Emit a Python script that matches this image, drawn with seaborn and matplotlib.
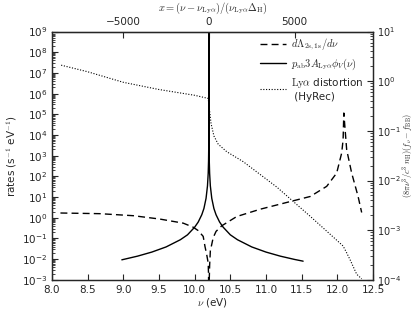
import matplotlib
matplotlib.use("Agg")
import matplotlib.pyplot as plt
import matplotlib.ticker as mticker
import seaborn as sns
import numpy as np

# photon energy grid (eV) and curves
dash_nu = [8.12, 8.67, 9.14, 9.51, 9.84, 9.98, 10.05, 10.12, 10.145, 10.17,
           10.19, 10.195, 10.2, 10.205, 10.21, 10.22, 10.26, 10.3, 10.38, 10.59,
           10.92, 11.29, 11.62, 11.85, 11.99, 12.06, 12.08, 12.09, 12.13, 12.2,
           12.29, 12.34]
dash_rate = [1.7, 1.58, 1.26, 0.87, 0.55, 0.35, 0.24, 0.126, 0.041, 0.016,
             0.0065, 0.0016, 1e-6, 0.001, 0.005, 0.025, 0.11, 0.22, 0.41, 1.15,
             2.6, 5.5, 10.7, 33, 145, 1350, 5900, 1.15e5, 1950, 145,
             10.7, 1.8]

solid_nu = [8.98, 9.2, 9.4, 9.6, 9.8, 9.9, 10.0, 10.05, 10.1, 10.13, 10.16,
            10.18, 10.19, 10.195, 10.198, 10.2, 10.202, 10.205, 10.21, 10.22,
            10.24, 10.27, 10.3, 10.35, 10.4, 10.5, 10.6, 10.8, 11.0, 11.2,
            11.4, 11.52]
solid_rate = [0.0093, 0.014, 0.022, 0.039, 0.087, 0.15, 0.35, 0.62, 1.4, 2.8,
              8.7, 35, 140, 560, 3500, 5e9, 3500, 560, 140, 35,
              8.7, 2.8, 1.4, 0.62, 0.35, 0.15, 0.087, 0.039, 0.022, 0.014,
              0.0097, 0.008]

dist_nu = [8.13, 8.5, 9.0, 9.5, 10.0, 10.19, 10.21, 10.23, 10.27, 10.33,
           10.45, 10.68, 11.15, 11.62, 11.95, 12.08, 12.13, 12.18, 12.27, 12.34]
dist_val = [2.1, 1.55, 0.95, 0.68, 0.52, 0.45, 0.25, 0.14, 0.079, 0.054,
            0.038, 0.024, 0.0074, 0.0019, 7.1e-4, 4.8e-4, 3.5e-4, 2.5e-4, 1.3e-4, 1.05e-4]

top_ticks = [-5000, 0, 5000]

nu_lya = 10.2
width = 2.4e-4  # nu_Lya * Delta_H in eV

sns.set_style("ticks")
plt.rcParams["font.family"] = ["DejaVu Sans"]
plt.rcParams["mathtext.fontset"] = "cm"
plt.rcParams["font.size"] = 7.5

fig, ax = plt.subplots(figsize=(4.15, 3.12), dpi=100)
fig.subplots_adjust(left=0.125, right=0.899, bottom=0.103, top=0.899)

ax.set_yscale("log")
sns.lineplot(x=dash_nu, y=dash_rate, ax=ax, color="k", lw=1, sort=False)
ax.lines[-1].set_dashes((5, 3))
sns.lineplot(x=solid_nu, y=solid_rate, ax=ax, color="k", lw=1, sort=False)
ax.set_xlim(8.0, 12.5)
ax.set_ylim(1e-3, 1e9)
ax.set_xlabel(r"$\nu$ (eV)", fontsize=7.5, labelpad=1)
ax.set_ylabel(r"rates (s$^{-1}$ eV$^{-1}$)", fontsize=7.5, labelpad=2)
ax.set_yticks([10.0 ** k for k in range(-3, 10)])
ax.yaxis.set_minor_locator(mticker.LogLocator(base=10, subs=np.arange(2, 10), numticks=100))
ax.yaxis.set_minor_formatter(mticker.NullFormatter())
ax.tick_params(axis="both", labelsize=7.5, length=4, width=0.8, direction="in")
ax.tick_params(which="minor", length=2, width=0.6, direction="in")

ax2 = ax.twinx()
ax2.set_yscale("log")
sns.lineplot(x=dist_nu, y=dist_val, ax=ax2, color="k", lw=0.8, sort=False)
ax2.lines[-1].set_dashes((1, 1.5))
ax2.set_ylim(1e-4, 1e1)
ax2.yaxis.set_minor_locator(mticker.LogLocator(base=10, subs=np.arange(2, 10), numticks=100))
ax2.yaxis.set_minor_formatter(mticker.NullFormatter())
ax2.set_ylabel(r"$(8\pi\nu^3/c^3\ n_{\rm H})(f_\nu - f_{\rm BB})$", fontsize=6)
ax2.yaxis.label.set_verticalalignment("center")
ax2.yaxis.set_label_coords(1.106, 0.5)
ax2.tick_params(axis="y", labelsize=7, length=4, width=0.8, direction="in", pad=2.5)
ax2.tick_params(which="minor", length=2, width=0.6, direction="in")

top = ax.secondary_xaxis("top", functions=(lambda v: (v - nu_lya) / width,
                                            lambda x: x * width + nu_lya))
top.set_xticks(top_ticks)
top.tick_params(labelsize=7.5, length=4, width=0.8, direction="in")
top.set_xlabel(r"$x = (\nu - \nu_{\rm Ly\alpha})/(\nu_{\rm Ly\alpha}\Delta_{\rm H})$",
               fontsize=7.5, labelpad=4)

for a in (ax, ax2):
    for s in a.spines.values():
        s.set_linewidth(0.9)

handles = ax.lines[:2] + ax2.lines[:1]
labels = [r"$d\Lambda_{\rm 2s,1s}/d\nu$",
          r"$p_{\rm ab}3A_{\rm Ly\alpha}\phi_V(\nu)$",
          r"$\rm Ly\alpha$ distortion" + "\n (HyRec)"]
ax2.legend(handles, labels, loc="upper right", frameon=False, fontsize=7.5,
           handlelength=2.5, bbox_to_anchor=(1.0, 1.015), labelspacing=0.4,
           handletextpad=0.5)

fig.savefig("out.png", dpi=100)
